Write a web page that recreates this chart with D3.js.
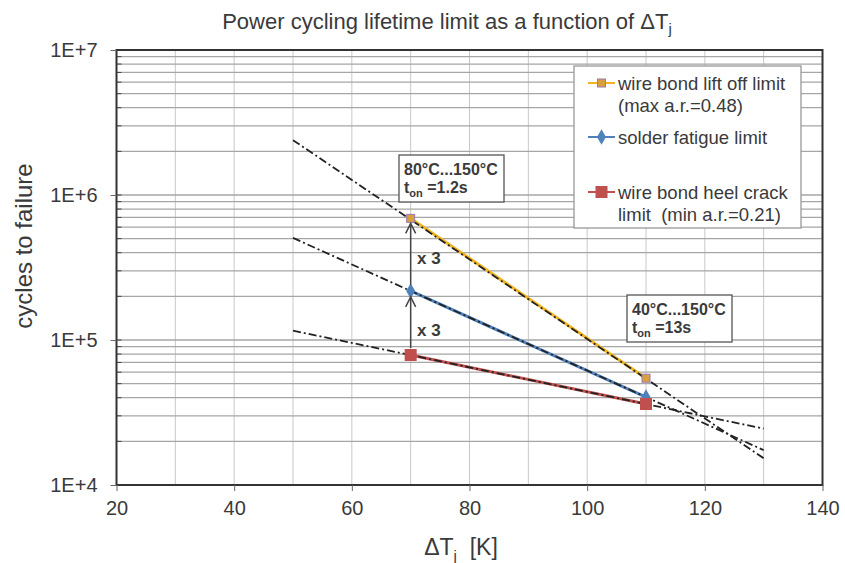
<!DOCTYPE html>
<html><head><meta charset="utf-8">
<script src="https://cdn.jsdelivr.net/npm/d3@7"></script>
<style>
body{margin:0;background:#fff;}
text{font-family:"Liberation Sans",Arial,sans-serif;fill:#3a3a3a;white-space:pre;}
</style></head>
<body>
<svg id="chart" width="845" height="563"></svg>
<script>
// ---- data ----
const xTicks = [20, 40, 60, 80, 100, 120, 140];
const yTickLabels = ["1E+4", "1E+5", "1E+6", "1E+7"];
const yTickValues = [1e4, 1e5, 1e6, 1e7];
const temps = [70, 110];
const liftOff = [690000, 54500];
const solder = [218000, 40400];
const heelCrack = [78800, 36200];
const extrapX = [50, 130];
const liftOffExtrap = [2390000, 15300];
const solderExtrap = [506000, 17400];
const heelExtrap = [116000, 24500];
const seriesNames = ["wire bond lift off limit", "solder fatigue limit", "wire bond heel crack"];
const seriesNotes = ["(max a.r.=0.48)", null, "limit  (min a.r.=0.21)"];

const svg = d3.select("#chart");
const m = {l:116.5, r:822.5, t:50, b:485};
const x = d3.scaleLinear().domain([20,140]).range([m.l, m.r]);
const y = d3.scaleLog().domain([1e4,1e7]).range([m.b, m.t]);

// gridlines
const g = svg.append("g");
d3.range(20, 141, 10).forEach(v => {
  g.append("line").attr("x1", x(v)).attr("x2", x(v)).attr("y1", m.t).attr("y2", m.b)
   .attr("stroke", "#c8c8c8").attr("stroke-width", 1);
});
const minor = [];
[1e4,1e5,1e6].forEach(d => { for (let k=1;k<=10;k++) minor.push(d*k); });
Array.from(new Set(minor)).forEach(v => {
  if (v <= 1e4 || v >= 1e7) return;
  g.append("line").attr("x1", m.l).attr("x2", m.r).attr("y1", y(v)).attr("y2", y(v))
   .attr("stroke", "#a6a6a6").attr("stroke-width", 1.3);
  g.append("line").attr("x1", m.l).attr("x2", m.l+5).attr("y1", y(v)).attr("y2", y(v))
   .attr("stroke", "#444").attr("stroke-width", 1);
});

// frame
svg.append("rect").attr("x", m.l).attr("y", m.t).attr("width", m.r-m.l).attr("height", m.b-m.t)
  .attr("fill", "none").attr("stroke", "#333").attr("stroke-width", 2);

// axes
const xAxis = d3.axisBottom(x).tickValues(xTicks).tickSize(6).tickPadding(10).tickFormat(d3.format("d"));
const xg = svg.append("g").attr("transform", `translate(0,${m.b})`).call(xAxis);
xg.select(".domain").remove();
xg.selectAll("line").attr("stroke", "#666");
xg.selectAll("text").style("font-size", "20px").attr("fill", "#3a3a3a");

const yAxis = d3.axisLeft(y).tickValues(yTickValues).tickSize(6).tickPadding(13)
  .tickFormat((d,i) => yTickLabels[i]);
const yg = svg.append("g").attr("transform", `translate(${m.l},0)`).call(yAxis);
yg.select(".domain").remove();
yg.selectAll("line").attr("stroke", "#666");
yg.selectAll("text").style("font-size", "20px").attr("fill", "#3a3a3a");

// titles
svg.append("text").attr("x", 447).attr("y", 29).attr("text-anchor", "middle").style("font-size", "22px")
  .html('Power cycling lifetime limit as a function of ΔT<tspan dy="5" style="font-size:15px">j</tspan>');
svg.append("text").attr("transform", "translate(32,246) rotate(-90)").attr("text-anchor", "middle")
  .style("font-size", "24px").text("cycles to failure");
svg.append("text").attr("x", 461).attr("y", 555).attr("text-anchor", "middle").style("font-size", "23px")
  .html('ΔT<tspan dy="6" style="font-size:15px">j</tspan><tspan dy="-6">  [K]</tspan>');

// series lines
const line = d3.line().x(d => x(d[0])).y(d => y(d[1]));
const series = [
  {vals: liftOff, ext: liftOffExtrap, color: "#f2b420"},
  {vals: solder, ext: solderExtrap, color: "#4f81bd"},
  {vals: heelCrack, ext: heelExtrap, color: "#c0504d"}
];
series.forEach(s => {
  svg.append("path").datum(temps.map((t,i)=>[t, s.vals[i]])).attr("d", line)
    .attr("fill", "none").attr("stroke", s.color).attr("stroke-width", 3);
});
series.forEach(s => {
  svg.append("path").datum(extrapX.map((t,i)=>[t, s.ext[i]])).attr("d", line)
    .attr("fill", "none").attr("stroke", "#222").attr("stroke-width", 1.8)
    .attr("stroke-dasharray", "8,3,2,3");
});

// markers
function marker(sel, type, cx, cy) {
  if (type === 0) {
    sel.append("rect").attr("x", cx-4).attr("y", cy-4).attr("width", 8).attr("height", 8)
      .attr("fill", "#d9a040").attr("stroke", "#9a7ab0").attr("stroke-width", 1);
  } else if (type === 1) {
    sel.append("path").attr("d", d3.symbol().type(d3.symbolDiamond).size(70)())
      .attr("transform", `translate(${cx},${cy})`).attr("fill", "#4f81bd");
  } else {
    sel.append("rect").attr("x", cx-6).attr("y", cy-6).attr("width", 12).attr("height", 12)
      .attr("fill", "#c0504d");
  }
}
series.forEach((s, k) => {
  temps.forEach((t, i) => marker(svg, k, x(t), y(s.vals[i])));
});

// arrows
function arrow(x0, y0, y1) {
  svg.append("line").attr("x1", x0).attr("x2", x0).attr("y1", y0).attr("y2", y1)
    .attr("stroke", "#444").attr("stroke-width", 1.5);
  svg.append("path").attr("d", `M${x0-5},${y1+10} L${x0},${y1} L${x0+5},${y1+10}`)
    .attr("fill", "none").attr("stroke", "#444").attr("stroke-width", 1.5);
}
arrow(x(70), y(heelCrack[0]) - 7, y(solder[0]) + 6);
arrow(x(70), y(solder[0]) - 6, y(liftOff[0]) + 5);
svg.append("text").attr("x", 417).attr("y", 264).style("font-size", "17px").style("font-weight", "bold").attr("fill", "#444").text("x 3");
svg.append("text").attr("x", 417).attr("y", 336).style("font-size", "17px").style("font-weight", "bold").attr("fill", "#444").text("x 3");

// annotation boxes
function box(bx, by, w, h, l1, l2) {
  svg.append("rect").attr("x", bx).attr("y", by).attr("width", w).attr("height", h)
    .attr("fill", "#fff").attr("stroke", "#555").attr("stroke-width", 1.3);
  svg.append("text").attr("x", bx+5).attr("y", by+20).style("font-size", "16px").style("font-weight", "bold")
    .attr("fill", "#444").text(l1);
  svg.append("text").attr("x", bx+5).attr("y", by+38).style("font-size", "16px").style("font-weight", "bold")
    .attr("fill", "#444")
    .html(`t<tspan dy="4" style="font-size:11px">on</tspan><tspan dy="-4"> =${l2}</tspan>`);
}
box(399, 155, 105, 47, "80°C...150°C", "1.2s");
box(627, 295, 105, 47, "40°C...150°C", "13s");

// legend
const lg = svg.append("g");
lg.append("rect").attr("x", 574).attr("y", 66).attr("width", 227).attr("height", 162)
  .attr("fill", "#fff").attr("stroke", "#999").attr("stroke-width", 1.3);
const legY = [83, 137, 192];
seriesNames.forEach((name, k) => {
  const ry = legY[k];
  lg.append("line").attr("x1", 588).attr("x2", 615).attr("y1", ry).attr("y2", ry)
    .attr("stroke", series[k].color).attr("stroke-width", 2);
  marker(lg, k, 601.5, ry);
  lg.append("text").attr("x", 618).attr("y", ry + 6.5).style("font-size", "18.5px").attr("fill", "#444").text(name);
  if (seriesNotes[k]) {
    lg.append("text").attr("x", 618).attr("y", ry + 28.5).style("font-size", "18.5px").attr("fill", "#444").text(seriesNotes[k]);
  }
});
</script>
</body></html>
